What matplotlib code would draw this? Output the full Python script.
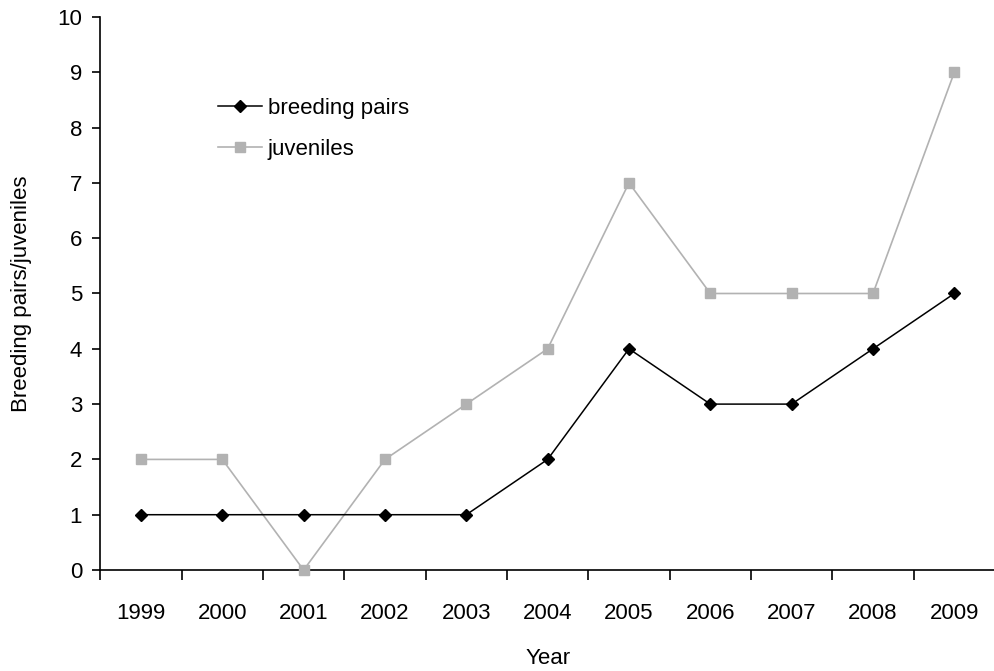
import matplotlib
matplotlib.use('Agg')
import matplotlib.pyplot as plt
import numpy as np

years = ['1999', '2000', '2001', '2002', '2003', '2004', '2005', '2006', '2007', '2008', '2009']
breeding_pairs = [1, 1, 1, 1, 1, 2, 4, 3, 3, 4, 5]
juveniles = [2, 2, 0, 2, 3, 4, 7, 5, 5, 5, 9]

plt.rcParams['font.family'] = ['Liberation Sans', 'DejaVu Sans']
fs = 16

fig = plt.figure(figsize=(9.95, 6.71), dpi=100)
ax = fig.add_axes([0.1008, 0.1505, 0.8992, 0.8242])

x = np.arange(len(years))
ax.plot(x, juveniles, color='#b2b2b2', lw=1.2, marker='s', ms=7,
        mfc='#b2b2b2', mec='#b2b2b2', label='juveniles', clip_on=False, zorder=3)
ax.plot(x, breeding_pairs, color='black', lw=1.1, marker='D', ms=6.5,
        mfc='black', mec='black', label='breeding pairs', clip_on=False, zorder=4)

ax.set_xlim(-0.5, 10.5)
ax.set_ylim(0, 10)
ax.set_yticks(range(0, 11))
ax.set_xticks(x)
ax.set_xticklabels(years)
ax.set_xticks(np.arange(-0.5, 10.5, 1), minor=True)
ax.tick_params(axis='x', which='major', length=0, pad=24, labelsize=fs)
ax.tick_params(axis='x', which='minor', length=7, width=1.2, direction='out')
ax.tick_params(axis='y', length=6, width=1.2, direction='out', labelsize=fs, pad=7)

for s in ['top', 'right']:
    ax.spines[s].set_visible(False)
for s in ['left', 'bottom']:
    ax.spines[s].set_linewidth(1.2)

ax.set_xlabel('Year', fontsize=fs, labelpad=17)
ax.set_ylabel('Breeding pairs/juveniles', fontsize=fs, labelpad=18)

h, l = ax.get_legend_handles_labels()
ax.legend(h[::-1], l[::-1], loc='upper left', bbox_to_anchor=(0.109, 0.89),
          frameon=False, fontsize=fs, handlelength=2.0, handletextpad=0.25,
          labelspacing=0.89)

plt.savefig('out.png', dpi=100)
